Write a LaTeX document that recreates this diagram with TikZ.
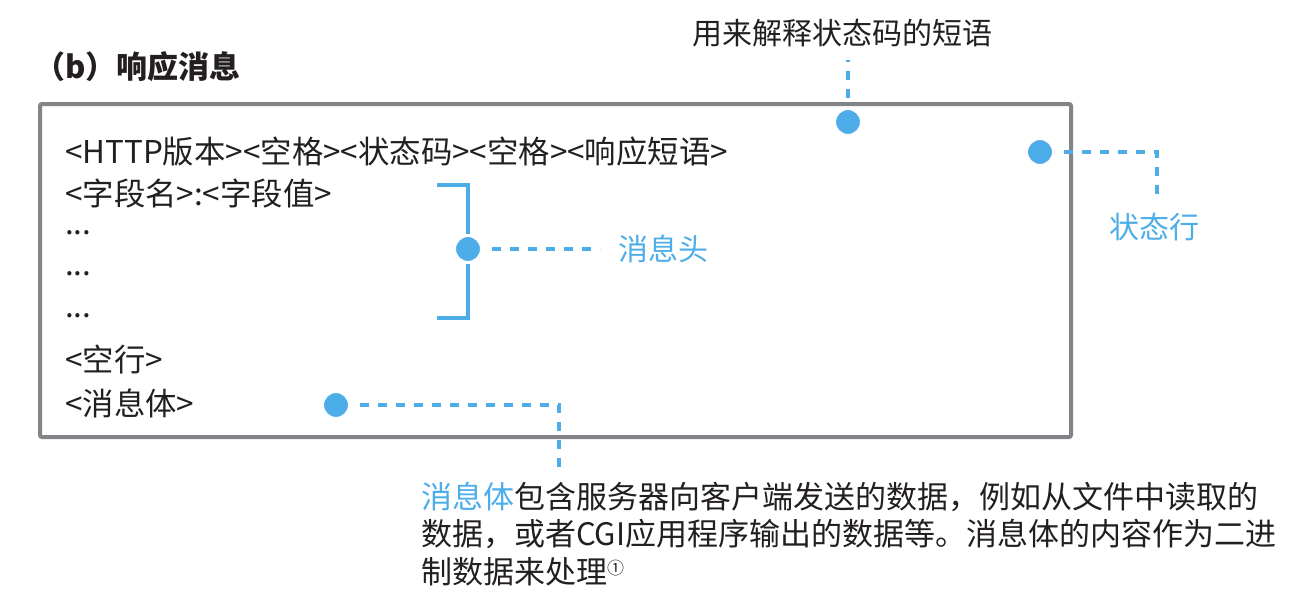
\documentclass[tikz,border=0pt]{standalone}
\usepackage{fontspec}
\setmainfont{Noto Sans CJK SC}
\usepackage{xcolor}
\usepackage{tikz}
\usetikzlibrary{positioning}

\definecolor{hintblue}{HTML}{4DADE8}
\definecolor{framegray}{HTML}{838487}
\definecolor{inkdark}{HTML}{231F20}

\tikzset{
  msgline/.style={anchor=base west, inner sep=0pt, text=inkdark,
    font=\fontsize{31.4}{37}\selectfont},
  hintlabel/.style={anchor=base west, inner sep=0pt, text=hintblue,
    font=\fontsize{30}{36}\selectfont},
  markdot/.style={circle, fill=hintblue, draw=white, line width=3pt,
    minimum size=27pt, inner sep=0pt},
  leader/.style={hintblue, line width=4.6pt, dash pattern=on 9pt off 9pt,
    dash phase=9pt},
}

\begin{document}
\begin{tikzpicture}[x=1pt, y=-1pt]
  \useasboundingbox (0,0) rectangle (1298,602);

  % title and outer frame
  \node[msgline, font=\fontsize{31}{37}\selectfont\bfseries] (title) at (34,78) {（b）响应消息};
  \draw[framegray, line width=4pt, rounded corners=2pt] (40,104) rectangle (1071,437);

  % message lines
  \node[msgline] (status) at (65,163) {<HTTP版本><空格><状态码><空格><响应短语>};
  \node[msgline] (field) at (65,205) {<字段名>:<字段值>};
  \foreach \y/\name in {234/dotsa, 275/dotsb, 317/dotsc} {
    \node[msgline] (\name) at (65,\y) {...};
  }
  \node[msgline] (blank) at (65,371) {<空行>};
  \node[msgline] (body) at (65,415) {<消息体>};

  % bracket round the header lines
  \draw[hintblue, line width=4.6pt] (437,185) -- (468,185) -- (468,318) -- (437,318);

  % marker dots
  \node[markdot] (phrasedot) at (848,122) {};
  \node[markdot] (statusdot) at (1040,152) {};
  \node[markdot] (headdot) at (468,249) {};
  \node[markdot] (bodydot) at (336,405) {};

  % annotations
  \node[hintlabel, text=inkdark] (phrase) at (692,45) {用来解释状态码的短语};
  \node[hintlabel] (statuslbl) at (1109,238) {状态行};
  \node[hintlabel] (headlbl) at (618,260) {消息头};
  \node[anchor=base west, inner sep=0pt, text=inkdark, align=left,
    font=\fontsize{31}{37.5}\selectfont] (bodynote) at (421,583)
    {\textcolor{hintblue}{消息体}包含服务器向客户端发送的数据，例如从文件中读取的\\
     数据，或者CGI应用程序输出的数据等。消息体的内容作为二进\\
     制数据来处理\raisebox{9pt}{\fontsize{17}{17}\selectfont ①}};

  % leader lines
  \coordinate (phraseend) at (848,60);
  \coordinate (statusend) at (1157,196);
  \coordinate (headend) at (600,249);
  \coordinate (bodyend) at (559,472);
  \draw[leader] (phrasedot.north) -- (phraseend);
  \draw[leader] (statusdot.east) -| (statusend);
  \draw[leader] (headdot.east) -- (headend);
  \draw[leader] (bodydot.east) -| (bodyend);
\end{tikzpicture}
\end{document}
